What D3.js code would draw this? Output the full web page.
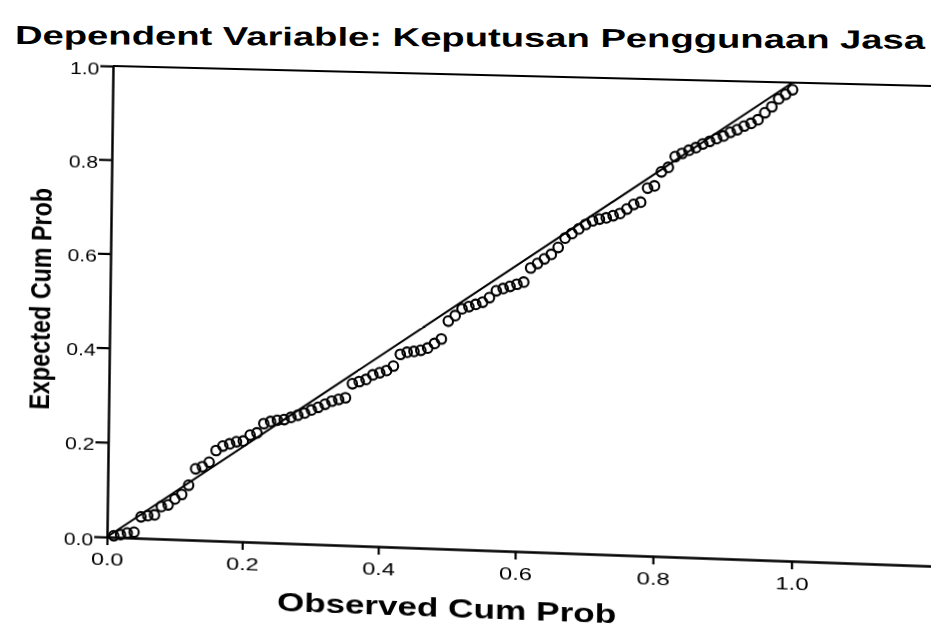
<!DOCTYPE html>
<html>
<head>
<meta charset="utf-8">
<script src="https://cdn.jsdelivr.net/npm/d3@7"></script>
<style>
body { margin: 0; background: #fff; }
#wrap { position: relative; width: 931px; height: 629px; overflow: hidden; background: #fff; }
#wrap svg { position: absolute; left: 0; top: 0; }
#plot { overflow: visible; transform-origin: 0 0; }
text { font-family: "Liberation Sans", Arial, sans-serif; fill: #000; }
</style>
</head>
<body>
<div id="wrap">
  <svg id="main" width="931" height="629"></svg>
  <svg id="plot" width="824" height="471"></svg>
</div>
<script>
var title = "Dependent Variable: Keputusan Penggunaan Jasa";
var xTitle = "Observed Cum Prob";
var yTitle = "Expected Cum Prob";

var xTicks = [0, 0.2, 0.4, 0.6, 0.8, 1.0];
var yTicks = [0, 0.2, 0.4, 0.6, 0.8, 1.0];

// observed / expected cumulative probabilities
var observed = [
  0.01, 0.02, 0.03, 0.04, 0.05, 0.06, 0.07, 0.08, 0.09, 0.10,
  0.11, 0.12, 0.13, 0.14, 0.15, 0.16, 0.17, 0.18, 0.19, 0.20,
  0.21, 0.22, 0.23, 0.24, 0.25, 0.26, 0.27, 0.28, 0.29, 0.30,
  0.31, 0.32, 0.33, 0.34, 0.35, 0.36, 0.37, 0.38, 0.39, 0.40,
  0.41, 0.42, 0.43, 0.44, 0.45, 0.46, 0.47, 0.48, 0.49, 0.50,
  0.51, 0.52, 0.53, 0.54, 0.55, 0.56, 0.57, 0.58, 0.59, 0.60,
  0.61, 0.62, 0.63, 0.64, 0.65, 0.66, 0.67, 0.68, 0.69, 0.70,
  0.71, 0.72, 0.73, 0.74, 0.75, 0.76, 0.77, 0.78, 0.79, 0.80,
  0.81, 0.82, 0.83, 0.84, 0.85, 0.86, 0.87, 0.88, 0.89, 0.90,
  0.91, 0.92, 0.93, 0.94, 0.95, 0.96, 0.97, 0.98, 0.99, 1.00
];
var expected = [
  0.003, 0.006, 0.010, 0.012, 0.045, 0.048, 0.050, 0.068, 0.072, 0.085,
  0.095, 0.115, 0.150, 0.155, 0.165, 0.190, 0.200, 0.205, 0.210, 0.212,
  0.225, 0.230, 0.250, 0.255, 0.258, 0.260, 0.265, 0.270, 0.275, 0.282,
  0.288, 0.295, 0.302, 0.306, 0.310, 0.340, 0.345, 0.350, 0.360, 0.365,
  0.370, 0.380, 0.405, 0.410, 0.412, 0.415, 0.420, 0.430, 0.440, 0.478,
  0.490, 0.505, 0.510, 0.515, 0.520, 0.530, 0.545, 0.550, 0.555, 0.560,
  0.565, 0.595, 0.605, 0.615, 0.625, 0.640, 0.660, 0.670, 0.680, 0.690,
  0.698, 0.702, 0.705, 0.710, 0.715, 0.725, 0.735, 0.740, 0.770, 0.775,
  0.805, 0.815, 0.838, 0.845, 0.852, 0.858, 0.866, 0.872, 0.878, 0.884,
  0.892, 0.898, 0.906, 0.912, 0.920, 0.935, 0.948, 0.965, 0.975, 0.985
];

var W = 824, H = 471;

// the scan is a bit warped: map the plot rectangle onto the quad seen in the picture
var quad = [[113, 66], [931, 86], [931, 566], [107, 537]];
function homography(q) {
  var x0 = q[0][0], y0 = q[0][1], x1 = q[1][0], y1 = q[1][1],
      x2 = q[2][0], y2 = q[2][1], x3 = q[3][0], y3 = q[3][1];
  var dx1 = x1 - x2, dy1 = y1 - y2, dx2 = x3 - x2, dy2 = y3 - y2,
      dx3 = x0 - x1 + x2 - x3, dy3 = y0 - y1 + y2 - y3;
  var den = dx1 * dy2 - dx2 * dy1;
  var g = (dx3 * dy2 - dx2 * dy3) / den;
  var h = (dx1 * dy3 - dx3 * dy1) / den;
  var a = x1 - x0 + g * x1, b = x3 - x0 + h * x3,
      d = y1 - y0 + g * y1, e = y3 - y0 + h * y3;
  return [a / W, d / W, 0, g / W,
          b / H, e / H, 0, h / H,
          0, 0, 1, 0,
          x0, y0, 0, 1];
}
d3.select("#plot").style("transform", "matrix3d(" + homography(quad).join(",") + ")");

var x = d3.scaleLinear().domain([0, 1.2]).range([0, W]);
var y = d3.scaleLinear().domain([0, 1]).range([H, 0]);

var main = d3.select("#main");
var svg = d3.select("#plot");

main.append("text")
    .attr("x", 15)
    .attr("y", 44)
    .attr("font-size", 26)
    .attr("font-weight", "bold")
    .attr("textLength", 910)
    .attr("lengthAdjust", "spacingAndGlyphs")
    .attr("transform", "rotate(0.3,15,44)")
    .text(title);

// top frame line
svg.append("line")
    .attr("x1", x(0)).attr("x2", x(1.2))
    .attr("y1", y(1)).attr("y2", y(1))
    .attr("stroke", "#000").attr("stroke-width", 2.2);

// reference diagonal
svg.append("line")
    .attr("x1", x(0)).attr("y1", y(0))
    .attr("x2", x(1)).attr("y2", y(1))
    .attr("stroke", "#000").attr("stroke-width", 2);

var pts = observed.map(function(o, i) { return {obs: o, exp: expected[i]}; });

svg.append("g")
    .attr("class", "points")
    .selectAll("circle")
    .data(pts)
    .enter().append("circle")
      .attr("cx", function(d) { return x(d.obs); })
      .attr("cy", function(d) { return y(d.exp); })
      .attr("r", 4.8)
      .attr("fill", "none")
      .attr("stroke", "#000")
      .attr("stroke-width", 2.1);

var xAxis = svg.append("g")
    .attr("transform", "translate(0," + H + ")")
    .call(d3.axisBottom(x).tickValues(xTicks).tickSize(8).tickSizeOuter(0)
          .tickPadding(9).tickFormat(d3.format(".1f")));

var yAxis = svg.append("g")
    .call(d3.axisLeft(y).tickValues(yTicks).tickSize(13).tickSizeOuter(0)
          .tickPadding(1).tickFormat(d3.format(".1f")));

[xAxis, yAxis].forEach(function(ax) {
  ax.attr("font-size", 16).attr("font-family", null);
  ax.select(".domain").attr("stroke-width", 2.5);
  ax.selectAll(".tick line").attr("stroke-width", 2.2);
});

xAxis.selectAll(".tick text")
    .attr("textLength", 33)
    .attr("lengthAdjust", "spacingAndGlyphs");

yAxis.selectAll(".tick text")
    .attr("dy", "0.5em")
    .attr("textLength", 30)
    .attr("lengthAdjust", "spacingAndGlyphs");

svg.append("text")
    .attr("x", x(0.5))
    .attr("y", H + 67)
    .attr("text-anchor", "middle")
    .attr("font-size", 25)
    .attr("font-weight", "bold")
    .attr("textLength", 340)
    .attr("lengthAdjust", "spacingAndGlyphs")
    .text(xTitle);

svg.append("text")
    .attr("transform", "translate(-61," + (H / 2) + ") rotate(-90)")
    .attr("text-anchor", "middle")
    .attr("font-size", 30)
    .attr("font-weight", "bold")
    .attr("textLength", 222)
    .attr("lengthAdjust", "spacingAndGlyphs")
    .text(yTitle);
</script>
</body>
</html>
